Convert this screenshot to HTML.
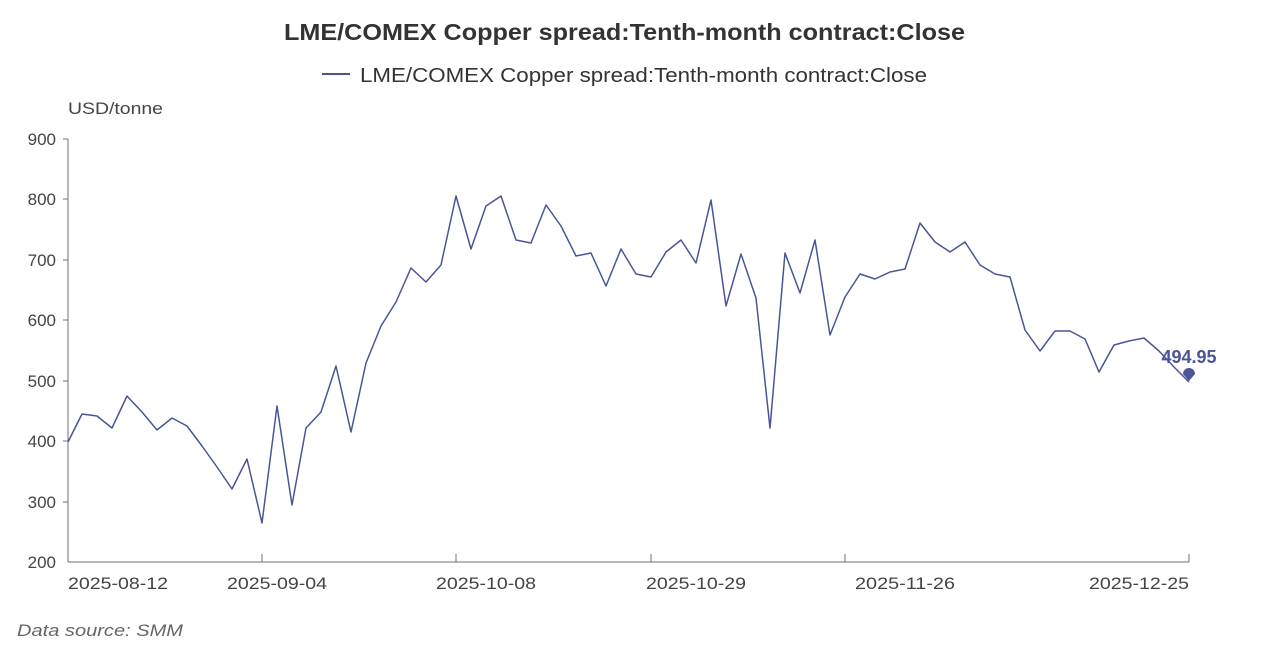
<!DOCTYPE html>
<html><head><meta charset="utf-8"><style>
body{margin:0;background:#fff;font-family:"Liberation Sans",sans-serif}
</style></head><body>
<svg width="1263" height="654" xmlns="http://www.w3.org/2000/svg" font-family="Liberation Sans, sans-serif">
<text x="284" y="40" textLength="681" lengthAdjust="spacingAndGlyphs" font-size="23" font-weight="bold" fill="#333">LME/COMEX Copper spread:Tenth-month contract:Close</text>
<line x1="322" y1="74" x2="350" y2="74" stroke="#4a5597" stroke-width="2"/>
<text x="360" y="82" textLength="567" lengthAdjust="spacingAndGlyphs" font-size="20" fill="#333">LME/COMEX Copper spread:Tenth-month contract:Close</text>
<text x="68" y="114" textLength="95" lengthAdjust="spacingAndGlyphs" font-size="17" fill="#444">USD/tonne</text>
<g font-size="17" fill="#444" text-anchor="end">
<text x="56" y="145">900</text><text x="56" y="205">800</text><text x="56" y="266">700</text><text x="56" y="326">600</text><text x="56" y="387">500</text><text x="56" y="447">400</text><text x="56" y="508">300</text><text x="56" y="568">200</text>
</g>
<g stroke="#6e7079" stroke-width="1">
<line x1="68" y1="139" x2="68" y2="562"/>
<line x1="63" y1="139" x2="68" y2="139"/><line x1="63" y1="199" x2="68" y2="199"/><line x1="63" y1="260" x2="68" y2="260"/><line x1="63" y1="320" x2="68" y2="320"/><line x1="63" y1="381" x2="68" y2="381"/><line x1="63" y1="441" x2="68" y2="441"/><line x1="63" y1="502" x2="68" y2="502"/>
<line x1="68" y1="562" x2="1189" y2="562"/>
<line x1="262" y1="562" x2="262" y2="554"/><line x1="456" y1="562" x2="456" y2="554"/><line x1="651" y1="562" x2="651" y2="554"/><line x1="845" y1="562" x2="845" y2="554"/><line x1="1189" y1="562" x2="1189" y2="554"/>
</g>
<g font-size="17" fill="#444">
<text x="68" y="589" textLength="100" lengthAdjust="spacingAndGlyphs">2025-08-12</text>
<text x="227" y="589" textLength="100" lengthAdjust="spacingAndGlyphs">2025-09-04</text>
<text x="436" y="589" textLength="100" lengthAdjust="spacingAndGlyphs">2025-10-08</text>
<text x="646" y="589" textLength="100" lengthAdjust="spacingAndGlyphs">2025-10-29</text>
<text x="855" y="589" textLength="100" lengthAdjust="spacingAndGlyphs">2025-11-26</text>
<text x="1089" y="589" textLength="100" lengthAdjust="spacingAndGlyphs">2025-12-25</text>
</g>
<polyline fill="none" stroke="#4a5597" stroke-width="1.5" stroke-linejoin="round" points="68,442 82,414 97,416 112,428 127,396 142,412 157,430 172,418 187,426 202,446 217,467 232,489 247,459 262,523 277,406 292,505 306,428 321,412 336,366 351,432 366,363 381,326 396,302 411,268 426,282 441,265 456,196 471,249 486,206 501,196 516,240 531,243 546,205 561,226 576,256 591,253 606,286 621,249 636,274 651,277 666,252 681,240 696,263 711,200 726,306 741,254 756,298 770,428 785,253 800,293 815,240 830,335 845,297 860,274 875,279 890,272 905,269 920,223 935,242 950,252 965,242 980,265 995,274 1010,277 1025,330 1040,351 1055,331 1070,331 1085,339 1099,372 1114,345 1129,341 1144,338 1159,351 1174,367 1189,382"/>
<path d="M1189,381 L1183,374 A6,6 0 1 1 1195,374 Z" fill="#4a5597"/>
<text x="1189" y="363" text-anchor="middle" font-size="18" font-weight="bold" fill="#4a5597">494.95</text>
<text x="17" y="636" textLength="166" lengthAdjust="spacingAndGlyphs" font-size="17" font-style="italic" fill="#666">Data source:  SMM</text>
</svg>
</body></html>
